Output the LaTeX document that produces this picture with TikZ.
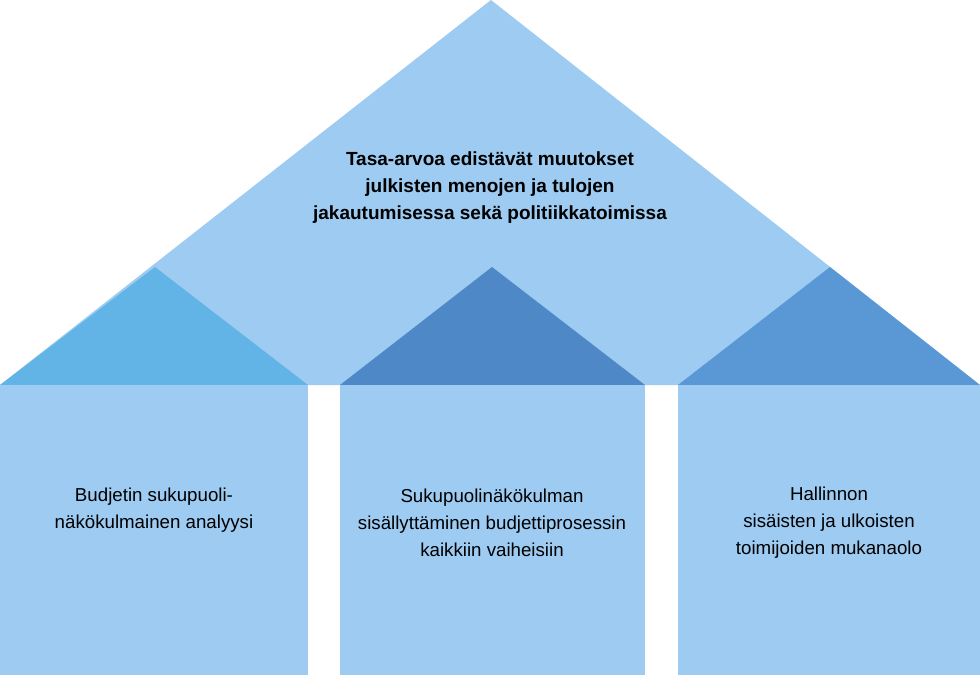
\documentclass[tikz,border=0pt]{standalone}
\usepackage{fontspec}
\setmainfont{Liberation Sans}
\usetikzlibrary{positioning}

\definecolor{roofblue}{HTML}{9DCBF1}
\definecolor{leftblue}{HTML}{63B4E6}
\definecolor{midblue}{HTML}{4F88C7}
\definecolor{rightblue}{HTML}{5A98D5}

\begin{document}
\begin{tikzpicture}[
    x=1pt, y=-1pt,
    pillar/.style={fill=roofblue, draw=none},
    gable/.style={draw=none},
    label/.style={align=center, font=\fontsize{18.7}{27}\selectfont, inner sep=0pt}
]
\useasboundingbox (0,0) rectangle (980,675);

% roof
\fill[roofblue] (491,0) -- (980,385) -- (0,385) -- cycle;

% small gables
\fill[gable, leftblue] (0,385) -- (155,267) -- (308,385) -- cycle;
\fill[gable, midblue] (340,385) -- (492,267) -- (645,385) -- cycle;
\fill[gable, rightblue] (678,385) -- (830,267) -- (980,385) -- cycle;

% pillars
\fill[pillar] (0,385) rectangle (308,675);
\fill[pillar] (340,385) rectangle (645,675);
\fill[pillar] (678,385) rectangle (980,675);

% texts
\node[label, font=\bfseries\fontsize{19}{27}\selectfont] (goal) at (490,188)
    {Tasa-arvoa edistävät muutokset\\julkisten menojen ja tulojen\\jakautumisessa sekä politiikkatoimissa};
\node[label] (analysis) at (154,510)
    {Budjetin sukupuoli-\\näkökulmainen analyysi};
\node[label] (process) at (492,523)
    {Sukupuolinäkökulman\\sisällyttäminen budjettiprosessin\\kaikkiin vaiheisiin};
\node[label] (actors) at (829,523)
    {Hallinnon\\sisäisten ja ulkoisten\\toimijoiden mukanaolo};
\end{tikzpicture}
\end{document}
